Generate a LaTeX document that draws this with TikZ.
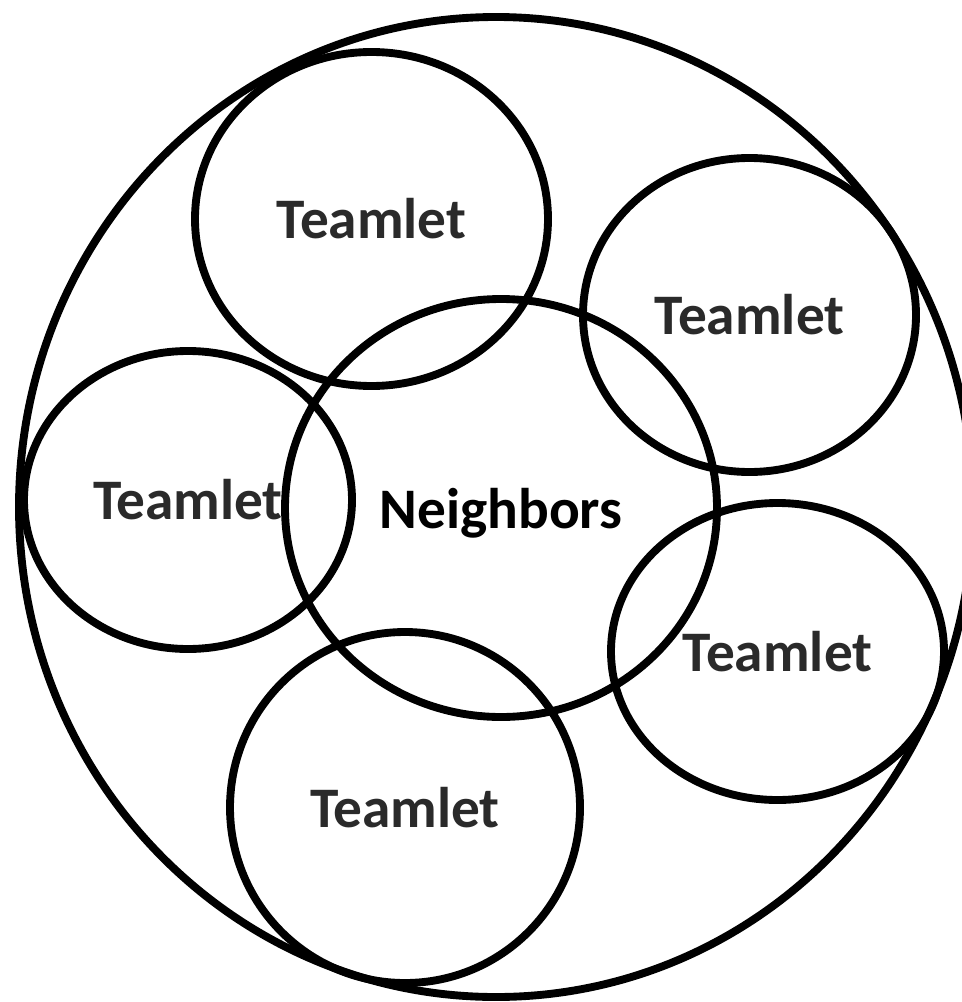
\documentclass[tikz,border=0pt]{standalone}
\usepackage{fontspec}
\setsansfont{Carlito}
\usepackage{xcolor}
\definecolor{tmtext}{HTML}{2A2A2A}
\usepackage{tikz}
\usetikzlibrary{shapes.geometric}
\tikzset{
  every picture/.style={line cap=round, line join=round},
  ring/.style={ellipse, draw=black, line width=5.9pt, inner sep=0pt,
    font=\sffamily\bfseries\fontsize{43}{50}\selectfont},
  teamlet/.style 2 args={ring, text=tmtext, minimum width=#1, minimum height=#2},
}

\begin{document}
\begin{tikzpicture}[x=0.75pt, y=-0.75pt]
\useasboundingbox (0,0) rectangle (962,1002);
% the whole group
\node[ring, minimum width=715.5pt, minimum height=735pt] (group) at (496,507) {};
% teamlets round the middle
\node[teamlet={264.75pt}{250.5pt}] (tmtop) at (371.5,219) {Teamlet};
\node[teamlet={249.75pt}{235.5pt}] (tmne) at (749.5,315) {Teamlet};
\node[teamlet={246pt}{223.5pt}] (tmwest) at (188,500) {Teamlet};
\node[teamlet={249.75pt}{222.75pt}] (tmse) at (777.5,651.5) {Teamlet};
\node[teamlet={262.5pt}{263.25pt}] (tmbottom) at (405,807.5) {Teamlet};
% neighbors in the middle
\node[ring, text=black, text depth=0pt, minimum width=324pt, minimum height=313.5pt] (nbrs) at (501,508) {Neighbors};
\end{tikzpicture}
\end{document}
